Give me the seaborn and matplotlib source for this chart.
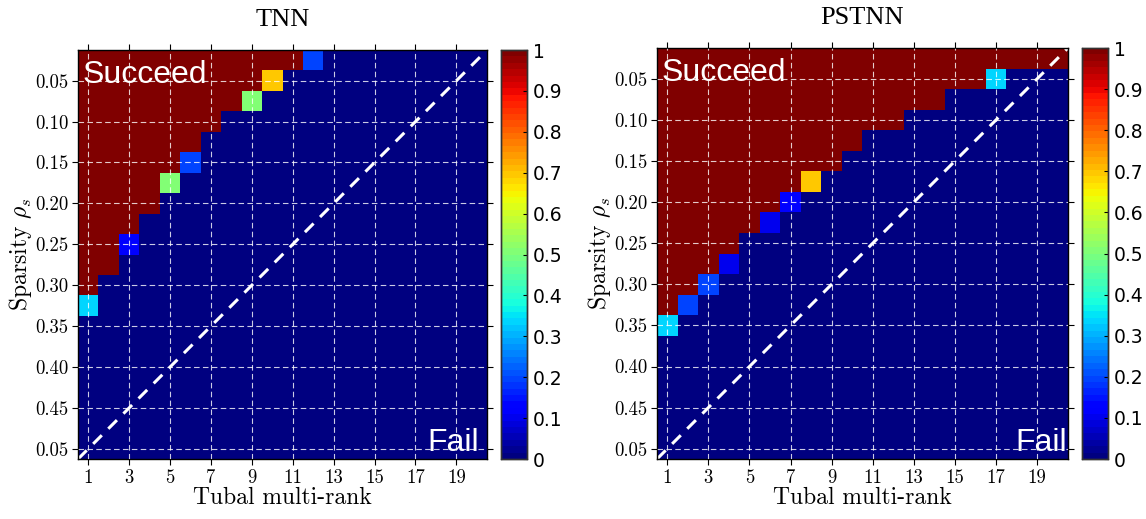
import numpy as np
import pandas as pd
import matplotlib
matplotlib.use("Agg")
import matplotlib.pyplot as plt
import seaborn as sns

# Grid of the phase transition: tubal rank (columns) x sparsity (rows)
ranks = list(range(1, 21))
sparsity = [0.025, 0.05, 0.075, 0.10, 0.125, 0.15, 0.175, 0.20, 0.225, 0.25,
            0.275, 0.30, 0.325, 0.35, 0.375, 0.40, 0.425, 0.45, 0.475, 0.50]

# number of fully successful ranks in each row, and the value of the cell just after
tnn_succeed = [11, 9, 8, 7, 6, 5, 4, 4, 3, 2, 2, 1, 0, 0, 0, 0, 0, 0, 0, 0]
tnn_edge = [0.2, 0.7, 0.5, 0, 0, 0.2, 0.5, 0, 0, 0.12, 0, 0, 0.33, 0, 0, 0, 0, 0, 0, 0]
pstnn_succeed = [20, 16, 14, 12, 10, 9, 7, 6, 5, 4, 3, 2, 1, 0, 0, 0, 0, 0, 0, 0]
pstnn_edge = [0, 0.33, 0, 0, 0, 0, 0.7, 0.12, 0.1, 0, 0.1, 0.2, 0.2, 0.33, 0, 0, 0, 0, 0, 0]

xtick_labels = ["1", "3", "5", "7", "9", "11", "13", "15", "17", "19"]
ytick_labels = ["0.05", "0.10", "0.15", "0.20", "0.25", "0.30", "0.35", "0.40", "0.45", "0.05"]
cbar_ticks = [0, 0.1, 0.2, 0.3, 0.4, 0.5, 0.6, 0.7, 0.8, 0.9, 1]
cbar_labels = ["0", "0.1", "0.2", "0.3", "0.4", "0.5", "0.6", "0.7", "0.8", "0.9", "1"]


def build(n_succeed, edge):
    m = np.zeros((len(sparsity), len(ranks)))
    for r, (n, e) in enumerate(zip(n_succeed, edge)):
        m[r, :n] = 1
        if n < len(ranks):
            m[r, n] = e
    return pd.DataFrame(m, index=sparsity, columns=ranks)


plt.rcParams["mathtext.fontset"] = "cm"
plt.rcParams["axes.unicode_minus"] = False

fig = plt.figure(figsize=(11.46, 5.19), dpi=100)
cmap = plt.get_cmap("jet", 64)

panels = [
    ("TNN", build(tnn_succeed, tnn_edge),
     [0.0681, 0.1156, 0.3569, 0.788], [0.4369, 0.1156, 0.023, 0.788], 19.6),
    ("PSTNN", build(pstnn_succeed, pstnn_edge),
     [0.5733, 0.1156, 0.3586, 0.7919], [0.9439, 0.1156, 0.023, 0.7919], 19.97),
]

for title, data, ax_pos, cb_pos, fail_x in panels:
    ax = fig.add_axes(ax_pos)
    cax = fig.add_axes(cb_pos)
    sns.heatmap(data, ax=ax, cbar_ax=cax, cmap=cmap, vmin=0, vmax=1,
                xticklabels=False, yticklabels=False,
                cbar_kws={"ticks": cbar_ticks})

    ax.set_xticks(np.arange(0, 20, 2) + 0.5)
    ax.set_xticklabels(xtick_labels, family="cmr10", fontsize=13.5)
    ax.set_yticks(np.arange(1, 20, 2) + 0.5)
    ax.set_yticklabels(ytick_labels, family="cmr10", fontsize=13.5, rotation=0)
    ax.tick_params(top=True, right=True, labeltop=False, labelright=False,
                   direction="out", length=4, width=0.8, pad=3)
    for s in ax.spines.values():
        s.set_visible(True)
        s.set_linewidth(1.0)
        s.set_color("black")

    ax.set_axisbelow(False)
    ax.grid(True, color="white", alpha=0.8, linewidth=0.8, linestyle=(0, (5, 3)))
    ax.plot([0, 20], [20, 0], color="white", linewidth=2.2, linestyle=(0, (4, 3)))

    ax.text(0.22, 1.62, "Succeed", color="white", fontsize=23,
            family="Liberation Sans", ha="left", va="baseline")
    ax.text(fail_x, 19.6, "Fail", color="white", fontsize=23,
            family="Liberation Sans", ha="right", va="baseline")

    ax.set_title(title, family="Liberation Serif", fontsize=19, pad=17)
    ax.set_xlabel("Tubal multi-rank", family="cmr10", fontsize=17, labelpad=0)
    ax.set_ylabel(r"Sparsity $\rho_s$", family="cmr10", fontsize=17, labelpad=1)

    cax.set_yticklabels(cbar_labels, family="DejaVu Sans", fontsize=13.5)
    cax.tick_params(direction="in", length=3, width=0.8, pad=4)
    for s in cax.spines.values():
        s.set_visible(True)
        s.set_linewidth(1.0)
        s.set_color("#333333")

fig.savefig("out.png", dpi=100)
